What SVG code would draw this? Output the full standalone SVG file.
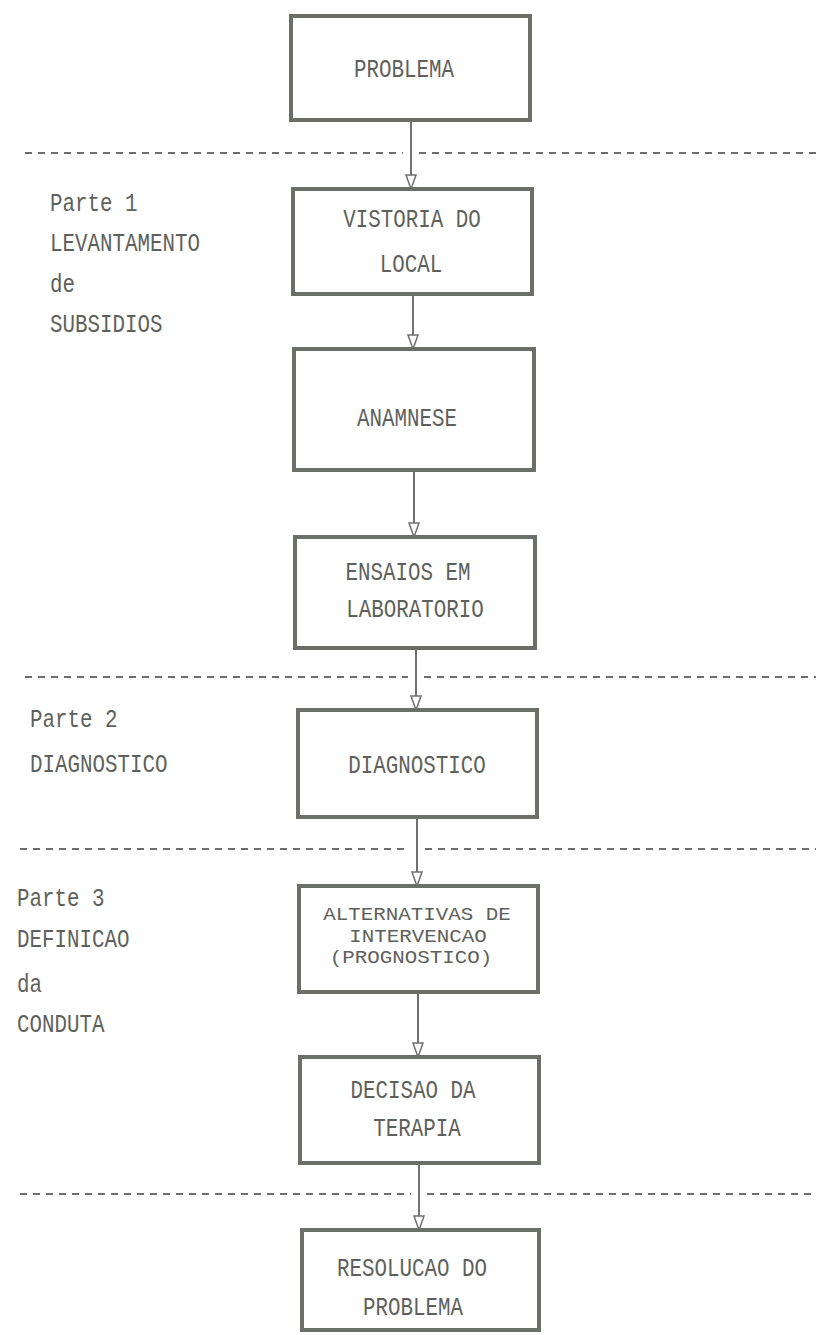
<svg xmlns="http://www.w3.org/2000/svg" width="816" height="1335" viewBox="0 0 816 1335">
<style>
.box{fill:#ffffff;stroke:#6c6f69;stroke-width:4}
.t{font-family:"Liberation Mono","Courier New",monospace;font-size:26px;fill:#5e615b;text-anchor:middle}
.s{font-family:"Liberation Mono","Courier New",monospace;font-size:19px;fill:#5e615b;text-anchor:middle}
.l{font-family:"Liberation Mono","Courier New",monospace;font-size:26px;fill:#5e615b;text-anchor:start}
.dash{stroke:#6f6f6f;stroke-width:2;stroke-dasharray:7 6;fill:none}
.cl{stroke:#707070;stroke-width:2;fill:none}
.ah{fill:#ffffff;stroke:#707070;stroke-width:1.5}
</style>
<rect width="816" height="1335" fill="#ffffff"/>

<g id="separators">
<path class="dash" d="M25 153H403M419 153H816"/>
<path class="dash" d="M25 677H408M424 677H816"/>
<path class="dash" d="M20 849H409M425 849H816"/>
<path class="dash" d="M20 1194H411M427 1194H816"/>
</g>

<g id="labels">
<text class="l" x="50" y="211" textLength="87.5" lengthAdjust="spacingAndGlyphs">Parte 1</text>
<text class="l" x="50" y="251" textLength="150" lengthAdjust="spacingAndGlyphs">LEVANTAMENTO</text>
<text class="l" x="50" y="292" textLength="25" lengthAdjust="spacingAndGlyphs">de</text>
<text class="l" x="50" y="332" textLength="112.5" lengthAdjust="spacingAndGlyphs">SUBSIDIOS</text>
<text class="l" x="30" y="727" textLength="87.5" lengthAdjust="spacingAndGlyphs">Parte 2</text>
<text class="l" x="30" y="772" textLength="137.5" lengthAdjust="spacingAndGlyphs">DIAGNOSTICO</text>
<text class="l" x="17" y="906" textLength="87.5" lengthAdjust="spacingAndGlyphs">Parte 3</text>
<text class="l" x="17" y="947" textLength="112.5" lengthAdjust="spacingAndGlyphs">DEFINICAO</text>
<text class="l" x="17" y="992" textLength="25" lengthAdjust="spacingAndGlyphs">da</text>
<text class="l" x="17" y="1032" textLength="87.5" lengthAdjust="spacingAndGlyphs">CONDUTA</text>
</g>

<g id="connectors">
<line class="cl" x1="411" y1="120" x2="411" y2="176"/>
<polygon class="ah" points="406,175 416,175 411,189"/>
<line class="cl" x1="413" y1="294" x2="413" y2="336"/>
<polygon class="ah" points="408,335 418,335 413,349"/>
<line class="cl" x1="414" y1="470" x2="414" y2="524"/>
<polygon class="ah" points="409,523 419,523 414,537"/>
<line class="cl" x1="416" y1="648" x2="416" y2="697"/>
<polygon class="ah" points="411,696 421,696 416,710"/>
<line class="cl" x1="417" y1="817" x2="417" y2="873"/>
<polygon class="ah" points="412,872 422,872 417,886"/>
<line class="cl" x1="418" y1="992" x2="418" y2="1044"/>
<polygon class="ah" points="413,1043 423,1043 418,1057"/>
<line class="cl" x1="419" y1="1163" x2="419" y2="1217"/>
<polygon class="ah" points="414,1216 424,1216 419,1230"/>
</g>

<g id="n1">
<rect class="box" x="291" y="16" width="239" height="104"/>
<text class="t" x="404" y="77" textLength="100" lengthAdjust="spacingAndGlyphs">PROBLEMA</text>
</g>
<g id="n2">
<rect class="box" x="293" y="189" width="239" height="105"/>
<text class="t" x="412" y="227" textLength="137.5" lengthAdjust="spacingAndGlyphs">VISTORIA DO</text>
<text class="t" x="411" y="272" textLength="62.5" lengthAdjust="spacingAndGlyphs">LOCAL</text>
</g>
<g id="n3">
<rect class="box" x="294" y="349" width="240" height="121"/>
<text class="t" x="407" y="426" textLength="100" lengthAdjust="spacingAndGlyphs">ANAMNESE</text>
</g>
<g id="n4">
<rect class="box" x="295" y="537" width="240" height="111"/>
<text class="t" x="408" y="580" textLength="125" lengthAdjust="spacingAndGlyphs">ENSAIOS EM</text>
<text class="t" x="415" y="617" textLength="137.5" lengthAdjust="spacingAndGlyphs">LABORATORIO</text>
</g>
<g id="n5">
<rect class="box" x="298" y="710" width="239" height="107"/>
<text class="t" x="417" y="773" textLength="137.5" lengthAdjust="spacingAndGlyphs">DIAGNOSTICO</text>
</g>
<g id="n6">
<rect class="box" x="299" y="886" width="239" height="106"/>
<text class="s" x="417" y="920" textLength="187.5" lengthAdjust="spacingAndGlyphs">ALTERNATIVAS DE</text>
<text class="s" x="418" y="941.5" textLength="137.5" lengthAdjust="spacingAndGlyphs">INTERVENCAO</text>
<text class="s" x="411" y="963" textLength="162.5" lengthAdjust="spacingAndGlyphs">(PROGNOSTICO)</text>
</g>
<g id="n7">
<rect class="box" x="300" y="1057" width="239" height="106"/>
<text class="t" x="413" y="1098" textLength="125" lengthAdjust="spacingAndGlyphs">DECISAO DA</text>
<text class="t" x="417" y="1136" textLength="87.5" lengthAdjust="spacingAndGlyphs">TERAPIA</text>
</g>
<g id="n8">
<rect class="box" x="302" y="1230" width="237" height="100"/>
<text class="t" x="412" y="1276" textLength="150" lengthAdjust="spacingAndGlyphs">RESOLUCAO DO</text>
<text class="t" x="413" y="1315" textLength="100" lengthAdjust="spacingAndGlyphs">PROBLEMA</text>
</g>
</svg>
